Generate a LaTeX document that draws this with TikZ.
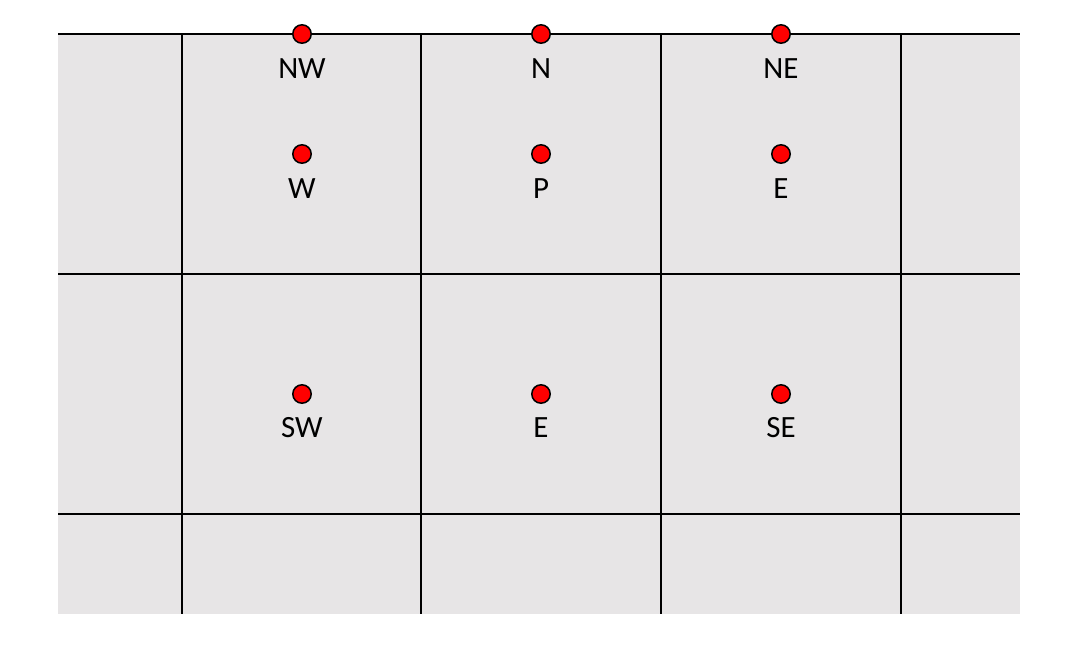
\documentclass[tikz,border=0pt]{standalone}
\usepackage{fontspec}
\setmainfont{Carlito}
\definecolor{cell_gray}{RGB}{231,229,230}
\definecolor{pt_red}{RGB}{255,0,0}

\begin{document}
\begin{tikzpicture}[x=0.025cm, y=-0.025cm,
    every node/.style={font=\fontsize{22}{26}\selectfont},
    gridline/.style={line width=2.1pt, black},
    stencilpt/.style={circle, draw=black, fill=pt_red, line width=1.1pt,
                      minimum size=0.46cm, inner sep=0pt},
    ptlabel/.style={inner sep=0pt}]
  \useasboundingbox (0,0) rectangle (1066,666);
  \fill[cell_gray] (58,34) rectangle (1020,614);
  % grid
  \foreach \x in {182,421,661,901}
    \draw[gridline] (\x,34) -- (\x,614);
  \foreach \y in {34,274,514}
    \draw[gridline] (58,\y) -- (1020,\y);
  % points
  \node[stencilpt] (nw) at (302,34) {};
  \node[stencilpt] (n)  at (541,34) {};
  \node[stencilpt] (ne) at (781,34) {};
  \node[stencilpt] (w)  at (302,154) {};
  \node[stencilpt] (p)  at (541,154) {};
  \node[stencilpt] (e)  at (781,154) {};
  \node[stencilpt] (sw) at (302,394) {};
  \node[stencilpt] (s)  at (541,394) {};
  \node[stencilpt] (se) at (781,394) {};
  % labels
  \node[ptlabel] (nwlabel) at (302,69) {NW};
  \node[ptlabel] (nlabel)  at (541,69) {N};
  \node[ptlabel] (nelabel) at (781,69) {NE};
  \node[ptlabel] (wlabel)  at (302,189) {W};
  \node[ptlabel] (plabel)  at (541,189) {P};
  \node[ptlabel] (elabel)  at (781,189) {E};
  \node[ptlabel] (swlabel) at (302,428) {SW};
  \node[ptlabel] (slabel)  at (541,428) {E};
  \node[ptlabel] (selabel) at (781,428) {SE};
\end{tikzpicture}
\end{document}
